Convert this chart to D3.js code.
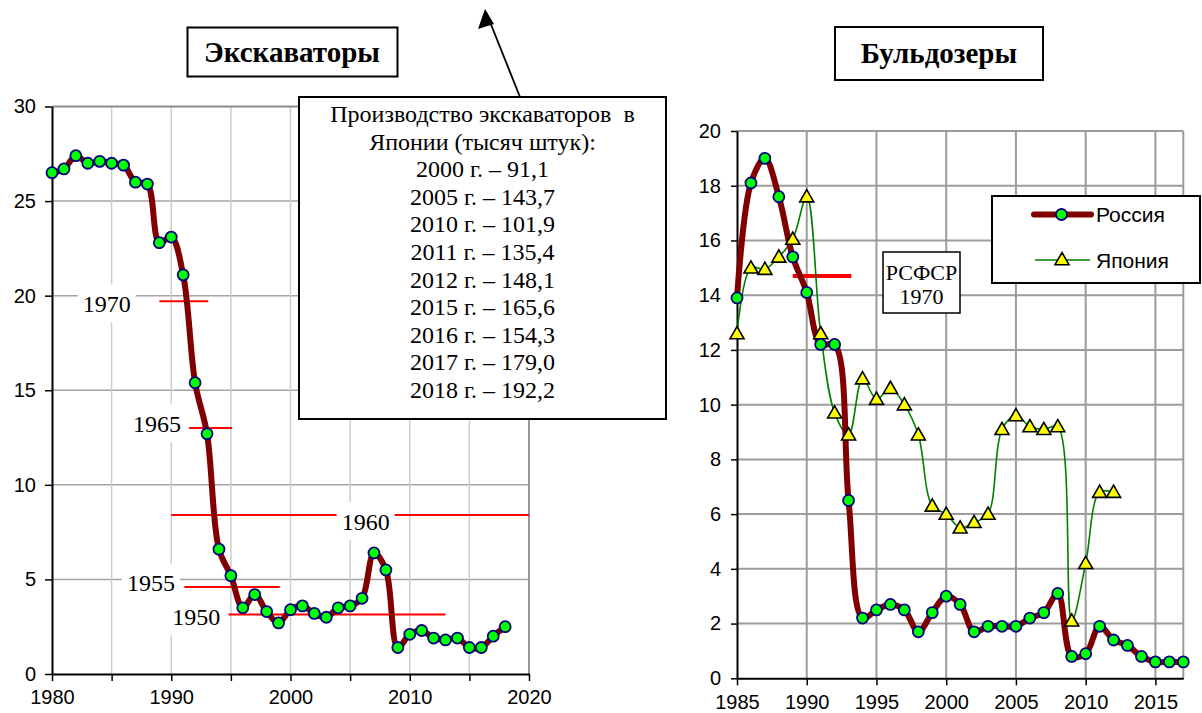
<!DOCTYPE html>
<html>
<head>
<meta charset="utf-8">
<script src="https://cdn.jsdelivr.net/npm/d3@7/dist/d3.min.js"></script>
<style>
  body { margin: 0; background: #fff; }
  svg { display: block; }
</style>
</head>
<body>
<svg id="chart" width="1202" height="713"></svg>
<script>
// ---- data: excavators (Russia), thousand units
const excYears = [1980, 1981, 1982, 1983, 1984, 1985, 1986, 1987, 1988, 1989,
  1990, 1991, 1992, 1993, 1994, 1995, 1996, 1997, 1998, 1999,
  2000, 2001, 2002, 2003, 2004, 2005, 2006, 2007, 2008, 2009,
  2010, 2011, 2012, 2013, 2014, 2015, 2016, 2017, 2018]
const excRussia = [26.5, 26.7, 27.4, 27.0, 27.1, 27.0, 26.9, 26.0, 25.9, 22.8,
  23.1, 21.1, 15.4, 12.7, 6.6, 5.2, 3.5, 4.2, 3.3, 2.7,
  3.4, 3.6, 3.2, 3.0, 3.5, 3.6, 4.0, 6.4, 5.5, 1.4,
  2.1, 2.3, 1.9, 1.8, 1.9, 1.4, 1.4, 2.0, 2.5]

// historical levels (RSFSR / USSR years) drawn as red lines
const refLabels = ['1970', '1965', '1960', '1955', '1950']
const refValues = [19.7, 13.0, 8.4, 4.6, 3.15]
const refFrom = [1989.0, 1991.5, 1990.0, 1991.1, 1994.8]
const refTo = [1993.1, 1995.1, 2020.0, 1999.1, 2013.0]

// note about Japan
const noteYears = [2000, 2005, 2010, 2011, 2012, 2015, 2016, 2017, 2018]
const noteValues = ['91,1', '143,7', '101,9', '135,4', '148,1', '165,6', '154,3', '179,0', '192,2']

// ---- data: bulldozers, thousand units
const bulYears = [1985, 1986, 1987, 1988, 1989, 1990, 1991, 1992, 1993, 1994,
  1995, 1996, 1997, 1998, 1999, 2000, 2001, 2002, 2003, 2004,
  2005, 2006, 2007, 2008, 2009, 2010, 2011, 2012, 2013, 2014,
  2015, 2016, 2017]
const bulRussia = [13.9, 18.1, 19.0, 17.6, 15.4, 14.1, 12.2, 12.2, 6.5, 2.2,
  2.5, 2.7, 2.5, 1.7, 2.4, 3.0, 2.7, 1.7, 1.9, 1.9,
  1.9, 2.2, 2.4, 3.1, 0.8, 0.9, 1.9, 1.4, 1.2, 0.8,
  0.6, 0.6, 0.6]
const bulJapanYears = [1985, 1986, 1987, 1988, 1989, 1990, 1991, 1992, 1993, 1994,
  1995, 1996, 1997, 1998, 1999, 2000, 2001, 2002, 2003, 2004,
  2005, 2006, 2007, 2008, 2009, 2010, 2011, 2012]
const bulJapan = [12.6, 15.0, 14.95, 15.4, 16.05, 17.6, 12.6, 9.7, 8.9, 10.95,
  10.2, 10.6, 10.0, 8.9, 6.3, 6.0, 5.5, 5.7, 6.0, 9.1,
  9.6, 9.2, 9.1, 9.2, 2.1, 4.2, 6.8, 6.8]
const rsfsrValue = 14.7
const rsfsrFrom = 1989.0
const rsfsrTo = 1993.2

const SANS = '"Liberation Sans", Arial, sans-serif'
const SERIF = '"Liberation Serif", "Times New Roman", serif'
const RUS = '#800000'

const svg = d3.select('#chart')

function styleAxis (g) {
  g.select('.domain').attr('stroke', '#000').attr('stroke-width', 2)
  g.selectAll('.tick line').attr('stroke', '#000').attr('stroke-width', 1.5)
  g.selectAll('.tick text').attr('fill', '#000')
    .style('font-family', SANS).style('font-size', '20px')
}

function grid (g, x, y, xs, ys, colH, colV, w) {
  g.selectAll('.gh').data(ys).enter().append('line')
    .attr('x1', x.range()[0]).attr('x2', x.range()[1])
    .attr('y1', d => y(d)).attr('y2', d => y(d))
    .attr('stroke', colH).attr('stroke-width', w)
  g.selectAll('.gv').data(xs).enter().append('line')
    .attr('x1', d => x(d)).attr('x2', d => x(d))
    .attr('y1', y.range()[0]).attr('y2', y.range()[1])
    .attr('stroke', colV).attr('stroke-width', w)
}

function titleBox (cx, x0, y0, w, h, text) {
  svg.append('rect').attr('x', x0).attr('y', y0).attr('width', w).attr('height', h)
    .attr('fill', '#fff').attr('stroke', '#000').attr('stroke-width', 2)
  svg.append('text').attr('x', cx).attr('y', y0 + h / 2 + 9.5)
    .attr('text-anchor', 'middle')
    .style('font-family', SERIF).style('font-size', '29px').style('font-weight', 'bold')
    .text(text)
}

function circles (g, xs, vs, x, y) {
  g.selectAll('.pt').data(vs).enter().append('circle')
    .attr('cx', (d, i) => x(xs[i])).attr('cy', d => y(d))
    .attr('r', 5.5)
    .attr('fill', '#00ff00').attr('stroke', '#000080').attr('stroke-width', 1.8)
}

const triPath = 'M0,-7L7,5.2L-7,5.2Z'

// ================= Excavators =================
const xL = d3.scaleLinear().domain([1980, 2020]).range([52, 529])
const yL = d3.scaleLinear().domain([0, 30]).range([674, 106.5])
const gL = svg.append('g')

grid(gL, xL, yL, [1985, 1990, 1995, 2000, 2005, 2010, 2015], [5, 10, 15, 20, 25], '#a4a4a4', '#cccccc', 1.5)
// plot border top/right
gL.append('line').attr('x1', xL(1980)).attr('x2', xL(2020)).attr('y1', yL(30)).attr('y2', yL(30))
  .attr('stroke', '#8c8c8c').attr('stroke-width', 1.8)
gL.append('line').attr('x1', xL(2020)).attr('x2', xL(2020)).attr('y1', yL(0)).attr('y2', yL(30))
  .attr('stroke', '#8c8c8c').attr('stroke-width', 1.8)

// red reference lines
gL.selectAll('.ref').data(refValues).enter().append('line')
  .attr('x1', (d, i) => xL(refFrom[i])).attr('x2', (d, i) => xL(refTo[i]))
  .attr('y1', d => yL(d)).attr('y2', d => yL(d))
  .attr('stroke', '#ff0000').attr('stroke-width', 2)

// their labels sit on white patches
const refLabelYear = [1984.6, 1988.8, 2006.3, 1988.3, 1992.1]
const refLabelShift = [2, -5, 6, -4, 2]
refLabels.forEach(function (lab, i) {
  const cx = xL(refLabelYear[i])
  const cy = yL(refValues[i]) + refLabelShift[i]
  gL.append('rect').attr('x', cx - 29).attr('y', cy - 19).attr('width', 58).attr('height', 38)
    .attr('fill', '#fff')
  gL.append('text').attr('x', cx).attr('y', cy + 8.5)
    .attr('text-anchor', 'middle')
    .style('font-family', SERIF).style('font-size', '24px')
    .text(lab)
})

gL.append('g').attr('transform', 'translate(' + xL(1980) + ',0)')
  .call(d3.axisLeft(yL).tickValues([0, 5, 10, 15, 20, 25, 30]).tickSize(7).tickSizeOuter(0).tickPadding(9))
  .call(styleAxis)
gL.append('g').attr('transform', 'translate(0,' + yL(0) + ')')
  .call(d3.axisBottom(xL).tickValues(d3.range(1980, 2021, 5)).tickSize(7).tickSizeOuter(0).tickPadding(9)
    .tickFormat(d => d % 10 === 0 ? d : ''))
  .call(styleAxis)

const lineL = d3.line().x((d, i) => xL(excYears[i])).y(d => yL(d)).curve(d3.curveCatmullRom.alpha(0.5))
gL.append('path').datum(excRussia).attr('d', lineL)
  .attr('fill', 'none').attr('stroke', RUS).attr('stroke-width', 6).attr('stroke-linejoin', 'round')
circles(gL, excYears, excRussia, xL, yL)

titleBox(292, 187.5, 27.5, 210, 49, 'Экскаваторы')

// note box with Japan figures
svg.append('rect').attr('x', 299).attr('y', 97).attr('width', 367).attr('height', 322)
  .attr('fill', '#fff').attr('stroke', '#000').attr('stroke-width', 2)
const noteLines = ['Производство экскаваторов  в', 'Японии (тысяч штук):']
  .concat(noteYears.map((y, i) => y + ' г. – ' + noteValues[i]))
svg.append('g').selectAll('text').data(noteLines).enter().append('text')
  .attr('x', 482.5).attr('y', (d, i) => 122 + i * 27.6)
  .attr('text-anchor', 'middle')
  .style('font-family', SERIF).style('font-size', '24px').style('white-space', 'pre')
  .text(d => d)

// arrow
svg.append('line').attr('x1', 520).attr('y1', 97).attr('x2', 486).attr('y2', 12)
  .attr('stroke', '#000').attr('stroke-width', 1.8)
svg.append('path').attr('d', 'M485,9L478,29L494,24Z').attr('fill', '#000')

// ================= Bulldozers =================
const xR = d3.scaleLinear().domain([1985, 2017]).range([737, 1183.3])
const yR = d3.scaleLinear().domain([0, 20]).range([678.3, 131])
const gR = svg.append('g')

grid(gR, xR, yR, [1990, 1995, 2000, 2005, 2010, 2015, 2017], [2, 4, 6, 8, 10, 12, 14, 16, 18, 20], '#9c9c9c', '#9c9c9c', 2)

gR.append('line').attr('x1', xR(rsfsrFrom)).attr('x2', xR(rsfsrTo))
  .attr('y1', yR(rsfsrValue)).attr('y2', yR(rsfsrValue))
  .attr('stroke', '#ff0000').attr('stroke-width', 4)

gR.append('g').attr('transform', 'translate(' + xR(1985) + ',0)')
  .call(d3.axisLeft(yR).tickValues(d3.range(0, 21, 2)).tickSize(6).tickSizeOuter(0).tickPadding(10))
  .call(styleAxis)
gR.append('g').attr('transform', 'translate(0,' + yR(0) + ')')
  .call(d3.axisBottom(xR).tickValues(d3.range(1985, 2016, 5)).tickSize(7).tickSizeOuter(0).tickPadding(10)
    .tickFormat(d => d))
  .call(styleAxis)

// RSFSR 1970 box
gR.append('rect').attr('x', 883).attr('y', 252).attr('width', 77).attr('height', 61)
  .attr('fill', '#fff').attr('stroke', '#000').attr('stroke-width', 1.5)
gR.selectAll('.rs').data(['РСФСР', '1970']).enter().append('text')
  .attr('x', 921.5).attr('y', (d, i) => 279.5 + i * 24)
  .attr('text-anchor', 'middle')
  .style('font-family', SERIF).style('font-size', '22px')
  .text(d => d)

const lineJ = d3.line().x((d, i) => xR(bulJapanYears[i])).y(d => yR(d)).curve(d3.curveCatmullRom.alpha(0.5))
gR.append('path').datum(bulJapan).attr('d', lineJ)
  .attr('fill', 'none').attr('stroke', '#008000').attr('stroke-width', 1.6)

const lineR = d3.line().x((d, i) => xR(bulYears[i])).y(d => yR(d)).curve(d3.curveCatmullRom.alpha(0.5))
gR.append('path').datum(bulRussia).attr('d', lineR)
  .attr('fill', 'none').attr('stroke', RUS).attr('stroke-width', 6).attr('stroke-linejoin', 'round')

gR.selectAll('.tri').data(bulJapan).enter().append('path')
  .attr('d', triPath)
  .attr('transform', (d, i) => 'translate(' + xR(bulJapanYears[i]) + ',' + yR(d) + ')')
  .attr('fill', '#ffff00').attr('stroke', '#000').attr('stroke-width', 1.6)
circles(gR, bulYears, bulRussia, xR, yR)

titleBox(939, 835, 27, 208, 53, 'Бульдозеры')

// legend
const lg = svg.append('g')
lg.append('rect').attr('x', 992).attr('y', 196).attr('width', 208).attr('height', 87)
  .attr('fill', '#fff').attr('stroke', '#000').attr('stroke-width', 2)
lg.append('line').attr('x1', 1034).attr('x2', 1091).attr('y1', 214.5).attr('y2', 214.5)
  .attr('stroke', RUS).attr('stroke-width', 6).attr('stroke-linecap', 'round')
lg.append('circle').attr('cx', 1061.5).attr('cy', 214.5).attr('r', 5.5)
  .attr('fill', '#00ff00').attr('stroke', '#000080').attr('stroke-width', 1.8)
lg.append('line').attr('x1', 1035).attr('x2', 1090).attr('y1', 260).attr('y2', 260)
  .attr('stroke', '#008000').attr('stroke-width', 1.6)
lg.append('path').attr('d', triPath).attr('transform', 'translate(1062,259.5)')
  .attr('fill', '#ffff00').attr('stroke', '#000').attr('stroke-width', 1.6)
lg.selectAll('.lt').data(['Россия', 'Япония']).enter().append('text')
  .attr('x', 1096).attr('y', (d, i) => 222 + i * 45.5)
  .style('font-family', SANS).style('font-size', '21px')
  .text(d => d)
</script>
</body>
</html>
